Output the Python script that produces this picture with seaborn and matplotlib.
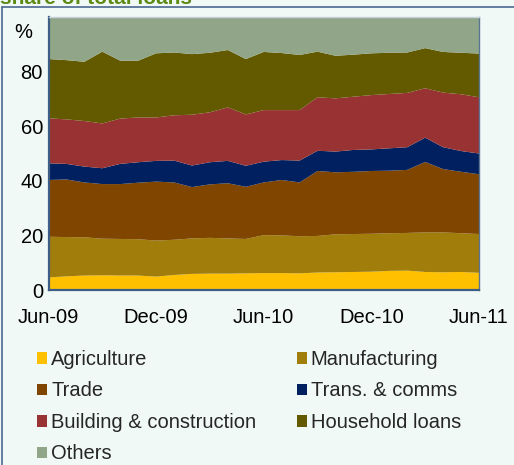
import numpy as np
import pandas as pd
import matplotlib
matplotlib.use("Agg")
import matplotlib.pyplot as plt
from matplotlib.patches import Patch
from matplotlib.lines import Line2D
import seaborn as sns

# Monthly observations, Jun-2009 to Jun-2011
months = pd.date_range("2009-06-01", "2011-06-01", freq="MS")
tick_labels = ["Jun-09", "Dec-09", "Jun-10", "Dec-10", "Jun-11"]

# Share of total loans by sector, per cent
agriculture = [4.6, 5.0, 5.3, 5.4, 5.3, 5.3, 4.9, 5.5, 5.9, 6.0, 6.0, 6.1, 6.2,
               6.2, 6.1, 6.4, 6.5, 6.6, 6.7, 7.0, 7.1, 6.6, 6.5, 6.6, 6.3]
manufacturing = [14.9, 14.4, 14.0, 13.4, 13.4, 13.3, 13.2, 12.9, 13.0, 13.1, 12.9, 12.6, 13.9,
                 13.8, 13.6, 13.4, 13.9, 13.9, 13.9, 13.8, 13.8, 14.5, 14.6, 14.2, 14.2]
trade = [20.8, 21.1, 20.1, 20.0, 20.1, 20.7, 21.6, 21.0, 18.8, 19.6, 20.2, 19.1, 19.3,
         20.3, 19.7, 23.8, 22.7, 22.8, 23.0, 22.9, 23.1, 25.8, 23.2, 22.5, 21.9]
trans_comms = [6.1, 5.7, 5.8, 5.8, 7.4, 7.5, 7.6, 8.0, 7.9, 8.1, 8.2, 7.7, 7.6,
               7.3, 8.0, 7.4, 7.6, 8.0, 7.9, 8.2, 8.3, 8.9, 8.0, 7.6, 7.6]
building = [16.5, 16.3, 16.7, 16.4, 16.6, 16.4, 15.9, 16.6, 18.6, 18.3, 19.6, 18.8, 18.9,
            18.3, 18.5, 19.6, 19.5, 19.5, 19.9, 19.9, 19.9, 18.1, 20.0, 20.8, 20.6]
household = [21.7, 21.7, 21.7, 26.3, 21.2, 20.8, 23.5, 23.0, 22.2, 21.8, 21.0, 20.3, 21.3,
             20.9, 20.2, 16.7, 15.6, 15.4, 15.3, 15.1, 14.8, 14.7, 14.9, 15.2, 16.0]
others = [15.4, 15.8, 16.4, 12.7, 16.0, 16.0, 13.3, 13.0, 13.6, 13.1, 12.1, 15.4, 12.8,
          13.2, 13.9, 12.7, 14.2, 13.8, 13.3, 13.1, 13.0, 11.4, 12.8, 13.1, 13.4]

sectors = ["Agriculture", "Manufacturing", "Trade", "Trans. & comms",
           "Building & construction", "Household loans", "Others"]
colours = ["#FFC000", "#A17D0C", "#804600", "#002060",
           "#993333", "#635A00", "#91A688"]

df = pd.DataFrame({
    "month": months,
    "Agriculture": agriculture,
    "Manufacturing": manufacturing,
    "Trade": trade,
    "Trans. & comms": trans_comms,
    "Building & construction": building,
    "Household loans": household,
    "Others": others,
})

sns.set_theme(style="white")
plt.rcParams["font.family"] = ["Liberation Sans", "DejaVu Sans"]

bg = "#F1F9F6"
axis_col = "#3F5E86"
fs = 14.5

fig = plt.figure(figsize=(5.14, 4.65), dpi=100, facecolor=bg)
W, H = 514, 465
ax = fig.add_axes([48.5 / W, 1 - 290 / H, (479 - 48.5) / W, (290 - 17) / H])
ax.set_facecolor(bg)

x = np.arange(len(df))
ax.stackplot(x, *[df[s].to_numpy() for s in sectors], colors=colours,
             linewidth=0, edgecolor="none")

ax.set_xlim(0, len(df) - 1)
ax.set_ylim(0, 100)
ax.set_xticks(np.arange(0, len(df), 6))
ax.set_xticklabels(tick_labels)
ax.set_yticks([0, 20, 40, 60, 80])
ax.set_yticklabels(["0", "20", "40", "60", "80"])
ax.tick_params(axis="both", direction="in", length=4, width=1.5, color=axis_col,
               labelsize=fs, labelcolor="black")
ax.tick_params(axis="x", pad=13)
ax.tick_params(axis="y", pad=4)

for side in ["left", "bottom"]:
    ax.spines[side].set_color(axis_col)
    ax.spines[side].set_linewidth(1.6)
ax.spines["right"].set_color("#5A7494")
ax.spines["right"].set_linewidth(1.0)
ax.spines["top"].set_color("#C5D2DC")
ax.spines["top"].set_linewidth(1.0)

# Unit label above the value axis
fig.text(23 / W, 1 - 33 / H, "%", ha="center", va="center", fontsize=fs, color="black")

# Title sitting above the panel frame
fig.text(0 / W, 1 - 3.5 / H, "share of total loans", ha="left", va="baseline",
         fontsize=15, fontweight="bold", color="#5C8A14")

# Panel frame
fig.add_artist(Line2D([2 / W, 2 / W], [0, 1 - 7 / H], transform=fig.transFigure,
                      color="#4C6890", linewidth=1.2))
fig.add_artist(Line2D([2 / W, 1], [1 - 7 / H, 1 - 7 / H], transform=fig.transFigure,
                      color="#4C6890", linewidth=1.2))

# Legend read row by row: two columns
handles = {s: Patch(facecolor=c, edgecolor="none", label=s) for s, c in zip(sectors, colours)}
order = ["Agriculture", "Trade", "Building & construction", "Others",
         "Manufacturing", "Trans. & comms", "Household loans"]
fig.legend([handles[s] for s in order], order, ncol=2, loc="upper left",
           bbox_to_anchor=(37 / W, 1 - 350 / H), frameon=False, fontsize=fs,
           handlelength=0.5, handleheight=0.5, handletextpad=0.2,
           labelspacing=0.62, columnspacing=2.0, borderpad=0, borderaxespad=0)

fig.savefig("out.png", dpi=100, facecolor=bg)
